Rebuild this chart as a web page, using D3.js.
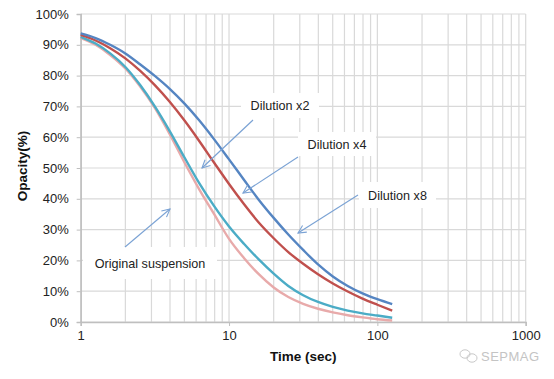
<!DOCTYPE html>
<html><head><meta charset="utf-8">
<script src="https://cdn.jsdelivr.net/npm/d3@7/dist/d3.min.js"></script>
<style>body{margin:0;background:#fff}svg{display:block}text{font-family:"Liberation Sans",Arial,sans-serif}</style>
</head><body><svg id="c" width="554" height="379"></svg>
<script>
const times = [1,1.26,1.58,2,2.51,3.16,3.98,5.01,6.31,7.94,10,12.6,15.8,20,25.1,31.6,39.8,50.1,63.1,79.4,100,125.9];
const dilutionX8 = [93.7,92.2,90.0,87.2,83.7,79.9,75.7,70.9,65.4,59.3,52.8,46.2,39.8,33.8,28.4,23.4,18.7,14.8,11.7,9.3,7.4,5.8];
const dilutionX4 = [93.2,91.4,88.9,85.6,81.6,76.9,71.5,65.4,58.7,51.7,44.8,38.3,32.4,27.2,22.7,18.9,15.5,12.5,9.9,7.6,5.6,3.7];
const dilutionX2 = [92.6,90.4,87.2,82.8,77.0,70.0,62.0,53.4,45.0,37.6,31.0,25.4,20.4,15.7,11.7,8.7,6.5,4.9,3.7,2.8,2.1,1.4];
const original   = [92.2,90.0,86.7,82.3,76.5,69.5,61.0,51.8,43.0,35.0,27.0,20.8,15.6,11.2,8.1,5.9,4.3,3.1,2.2,1.5,0.9,0.5];
const yTicks = [0,10,20,30,40,50,60,70,80,90,100];
const xTicks = [1,10,100,1000];
const seriesNames = ["Dilution x8","Dilution x4","Dilution x2","Original suspension"];
const colors = ["#5585C2","#C0504D","#4BACC6","#E8AAAA"];

const svg = d3.select("#c");
const L=80.7,R=525.7,T=14,B=322;
const x = d3.scaleLog().domain([1,1000]).range([L,R]);
const y = d3.scaleLinear().domain([0,100]).range([B,T]);

// gridlines
const g = svg.append("g");
const minor = [];
[1,10,100].forEach(d=>{for(let k=2;k<=9;k++) minor.push(d*k);});
g.selectAll(".vm").data(minor.concat(xTicks)).enter().append("line")
  .attr("x1",d=>x(d)).attr("x2",d=>x(d)).attr("y1",T).attr("y2",B)
  .attr("stroke","#d9d9d9").attr("stroke-width",1.2);
g.selectAll(".h").data(yTicks).enter().append("line")
  .attr("x1",L).attr("x2",R).attr("y1",d=>y(d)).attr("y2",d=>y(d))
  .attr("stroke","#d9d9d9").attr("stroke-width",1.2);

// axes
const yAxis = d3.axisLeft(y).tickValues(yTicks).tickFormat(d=>d+"%").tickSize(4).tickPadding(8);
const ya = svg.append("g").attr("transform",`translate(${L},0)`).call(yAxis);
ya.select(".domain").attr("stroke","#bfbfbf").attr("stroke-width",1.5);
ya.selectAll(".tick line").attr("stroke","#bfbfbf");
ya.selectAll("text").attr("font-size",13).attr("fill","#222").attr("font-family","Liberation Sans, Arial, sans-serif");
const xAxis = d3.axisBottom(x).tickValues(xTicks).tickFormat(d3.format("d")).tickSize(4).tickPadding(5);
const xa = svg.append("g").attr("transform",`translate(0,${B})`).call(xAxis);
xa.select(".domain").attr("stroke","#bfbfbf").attr("stroke-width",1.5);
xa.selectAll(".tick line").attr("stroke","#bfbfbf");
xa.selectAll("text").attr("font-size",13).attr("fill","#222").attr("font-family","Liberation Sans, Arial, sans-serif");

svg.append("text").attr("x",(L+R)/2).attr("y",361).attr("text-anchor","middle")
  .attr("font-size",13.5).attr("font-weight","bold").attr("fill","#111").text("Time (sec)");
svg.append("text").attr("transform",`translate(27,166) rotate(-90)`).attr("text-anchor","middle")
  .attr("font-size",13.5).attr("font-weight","bold").attr("fill","#111").text("Opacity(%)");

// lines
const series = [dilutionX8,dilutionX4,dilutionX2,original];
const line = d3.line().x(d=>x(d[0])).y(d=>y(d[1])).curve(d3.curveMonotoneX);
for (let idx = series.length-1; idx >= 0; idx--) {
  svg.append("path").datum(times.map((t,j)=>[t,series[idx][j]]))
    .attr("d",line).attr("fill","none").attr("stroke",colors[idx]).attr("stroke-width",2.4);
}

// annotations
const defs = svg.append("defs");
defs.append("marker").attr("id","ah").attr("viewBox","0 0 10 10").attr("refX",9).attr("refY",5)
  .attr("markerWidth",9).attr("markerHeight",9).attr("orient","auto-start-reverse")
  .append("path").attr("d","M1,1 L9,5 L1,9").attr("fill","none").attr("stroke","#7aa2d4").attr("stroke-width",1.1);
const notes = [
  {text:"Dilution x2", box:[241,93,78,25], from:[253,120], to:[202,168]},
  {text:"Dilution x4", box:[298,132,78,24], from:[298,157], to:[243,193]},
  {text:"Dilution x8", box:[359,182,77,26], from:[358,195], to:[298,233]},
  {text:"Original suspension", box:[83,247,134,32], from:[125,247], to:[170,209]}
];
notes.forEach(n=>{
  svg.append("rect").attr("x",n.box[0]).attr("y",n.box[1]).attr("width",n.box[2]).attr("height",n.box[3]).attr("fill","#fff");
  svg.append("line").attr("x1",n.from[0]).attr("y1",n.from[1]).attr("x2",n.to[0]).attr("y2",n.to[1])
    .attr("stroke","#7aa2d4").attr("stroke-width",1.1).attr("marker-end","url(#ah)");
  svg.append("text").attr("x",n.box[0]+n.box[2]/2).attr("y",n.box[1]+n.box[3]/2+4.5).attr("text-anchor","middle")
    .attr("font-size",12.6).attr("fill","#222").text(n.text);
});

// watermark
const wm = svg.append("g").attr("fill","none").attr("stroke","#c8c8c8").attr("stroke-width",1);
wm.append("ellipse").attr("cx",465).attr("cy",354).attr("rx",5).attr("ry",4.2);
wm.append("ellipse").attr("cx",472).attr("cy",358).attr("rx",5).attr("ry",4.2);
svg.append("text").attr("x",481).attr("y",361).attr("font-size",13).attr("fill","#c4c4c4").attr("letter-spacing",0.5).text("SEPMAG");
</script></body></html>
